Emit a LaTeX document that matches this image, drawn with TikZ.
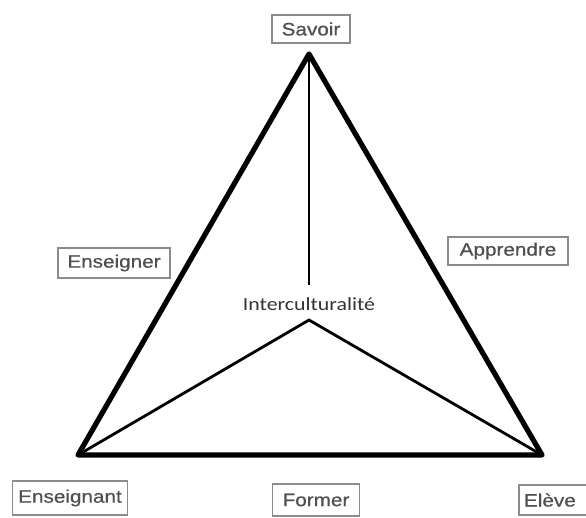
\documentclass[tikz,border=0pt]{standalone}
\usepackage{fontspec}
\newfontfamily\boxfont[FakeStretch=1.15,FakeBold=0.6]{Liberation Sans}
\newfontfamily\interfont[FakeStretch=1.18]{Carlito}
\definecolor{boxtext}{HTML}{505050}
\definecolor{boxline}{HTML}{8C8C8C}
\definecolor{intertext}{HTML}{333333}
\begin{document}
\begin{tikzpicture}[x=1pt,y=-1pt,
  lbl/.style={draw=boxline, line width=1.8pt, text=boxtext, inner sep=0pt,
    font=\boxfont\fontsize{18}{20}\selectfont},
  outer/.style={line width=5.2pt, line join=round, line cap=round},
  inner/.style={line width=2.8pt, line join=miter}]
\useasboundingbox (0,0) rectangle (586,517);
\clip (0,0) rectangle (586,517);
\fill[white] (0,0) rectangle (586,517);
% box labels
\node[lbl, minimum width=78pt, minimum height=28pt] (savoir) at (311,29) {Savoir};
\node[lbl, minimum width=112pt, minimum height=30pt] (enseigner) at (114,263) {Enseigner};
\node[lbl, minimum width=120pt, minimum height=28pt] (apprendre) at (508,251) {Apprendre};
\node[lbl, minimum width=115pt, minimum height=34pt] (enseignant) at (70,498) {Enseignant};
\node[lbl, minimum width=87pt, minimum height=32pt] (former) at (316,500) {Former};
\node[lbl, minimum width=72pt, minimum height=30pt, text width=66pt, align=left] (eleve) at (555,500) {\hspace*{2pt}Elève};
% triangle vertices
\coordinate (S) at (309,54);
\coordinate (L) at (78,455);
\coordinate (R) at (542,455);
\coordinate (C) at (309,320);
\coordinate (V) at (309,285);
\draw[outer] (S) -- (L) -- (R) -- cycle;
\draw[inner] (S) -- (V);
\draw[inner] (L) -- (C) -- (R);
\node[anchor=base, inner sep=0pt, text=intertext,
  font=\interfont\fontsize{18.5}{20}\selectfont] (inter) at (309,310) {Interculturalité};
\end{tikzpicture}
\end{document}
